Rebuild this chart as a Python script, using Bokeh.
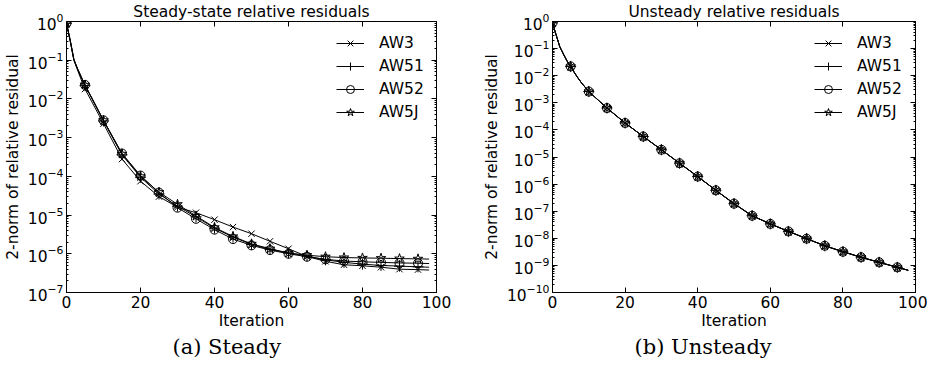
from bokeh.plotting import figure
from bokeh.models import (LinearAxis, LogAxis, FixedTicker, Legend, LegendItem,
                          Title, Range1d, ColumnDataSource, CustomJSTickFormatter)
from bokeh.layouts import row
from bokeh.embed import file_html
from bokeh.resources import INLINE

# ---------------- data ----------------
series_names = ["AW3", "AW51", "AW52", "AW5J"]
x_ticks = [0, 20, 40, 60, 80, 100]

steady_iters = [0, 1, 2, 3, 4, 5, 10, 15, 20, 25, 30, 35, 40, 45, 50, 55, 60, 65, 70, 75, 80, 85, 90, 95, 98]
steady_aw3 = [0.9, 0.31, 0.1, 0.055, 0.031, 0.018, 2.3e-3, 2.8e-4, 7.5e-5, 3.0e-5, 1.6e-5, 1.15e-5, 7.6e-6,
              4.9e-6, 3.3e-6, 2.1e-6, 1.35e-6, 8.5e-7, 6.4e-7, 5.2e-7, 4.9e-7, 4.5e-7, 4.0e-7, 3.9e-7, 3.8e-7]
steady_aw51 = [0.9, 0.32, 0.1, 0.058, 0.035, 0.022, 2.7e-3, 3.6e-4, 9.5e-5, 3.5e-5, 1.7e-5, 9.0e-6, 4.6e-6,
               2.7e-6, 1.75e-6, 1.3e-6, 1.05e-6, 8.7e-7, 7.0e-7, 6.0e-7, 5.4e-7, 5.0e-7, 4.8e-7, 4.6e-7, 4.5e-7]
steady_aw52 = [0.9, 0.33, 0.105, 0.06, 0.037, 0.023, 2.8e-3, 3.9e-4, 1.05e-4, 3.8e-5, 1.55e-5, 8.0e-6, 4.2e-6,
               2.4e-6, 1.65e-6, 1.25e-6, 1.0e-6, 8.4e-7, 7.2e-7, 6.5e-7, 6.2e-7, 6.0e-7, 5.8e-7, 5.7e-7, 5.6e-7]
steady_aw5j = [0.9, 0.33, 0.105, 0.06, 0.037, 0.023, 2.8e-3, 3.8e-4, 1.0e-4, 3.9e-5, 1.9e-5, 9.5e-6, 4.8e-6,
               2.8e-6, 1.8e-6, 1.35e-6, 1.05e-6, 9.2e-7, 8.4e-7, 8.0e-7, 7.8e-7, 7.7e-7, 7.5e-7, 7.4e-7, 7.3e-7]

unsteady_iters = [0, 1, 2, 3, 4, 5, 6, 7, 8, 10, 15, 20, 25, 30, 35, 40, 45, 50, 55, 60, 65, 70, 75, 80, 85, 90, 95, 98]
unsteady_aw3 = [0.89, 0.32, 0.118, 0.063, 0.035, 0.022, 0.0132, 0.0083, 0.0054, 2.6e-3, 6.4e-4, 1.8e-4, 5.7e-5,
                1.85e-5, 5.9e-6, 1.9e-6, 5.9e-7, 1.9e-7, 6.8e-8, 3.4e-8, 1.8e-8, 9.7e-9, 5.3e-9, 3.2e-9, 2.0e-9,
                1.3e-9, 8.5e-10, 6.6e-10]
unsteady_aw51 = [0.89, 0.32, 0.118, 0.063, 0.035, 0.022, 0.0132, 0.0083, 0.0054, 2.6e-3, 6.4e-4, 1.8e-4, 5.7e-5,
                 1.85e-5, 5.9e-6, 1.9e-6, 5.9e-7, 1.9e-7, 6.8e-8, 3.4e-8, 1.8e-8, 9.7e-9, 5.3e-9, 3.2e-9, 2.0e-9,
                 1.3e-9, 8.5e-10, 6.6e-10]
unsteady_aw52 = [0.89, 0.32, 0.118, 0.063, 0.035, 0.022, 0.0132, 0.0083, 0.0054, 2.6e-3, 6.4e-4, 1.8e-4, 5.7e-5,
                 1.85e-5, 5.9e-6, 1.9e-6, 5.9e-7, 1.9e-7, 6.8e-8, 3.4e-8, 1.8e-8, 9.7e-9, 5.3e-9, 3.2e-9, 2.0e-9,
                 1.3e-9, 8.5e-10, 6.6e-10]
unsteady_aw5j = [0.89, 0.32, 0.118, 0.063, 0.035, 0.022, 0.0132, 0.0083, 0.0054, 2.6e-3, 6.4e-4, 1.8e-4, 5.7e-5,
                 1.85e-5, 5.9e-6, 1.9e-6, 5.9e-7, 1.9e-7, 6.8e-8, 3.4e-8, 1.8e-8, 9.7e-9, 5.3e-9, 3.2e-9, 2.0e-9,
                 1.3e-9, 8.5e-10, 6.6e-10]

marker_every = 5
marker_last = 95

# ---------------- styling ----------------
FONT = "DejaVu Sans"
FS = "15.5px"
marker_styles = {
    "AW3": dict(marker="x", size=9, fill_color=None),
    "AW51": dict(marker="cross", size=11, fill_color=None),
    "AW52": dict(marker="circle", size=9, fill_color=None),
    "AW5J": dict(marker="star", size=10, fill_color=None),
}


def blank_axis(cls, ticker, minor):
    return cls(ticker=ticker, formatter=CustomJSTickFormatter(code="return ''"),
               major_label_text_font_size="2px", major_tick_in=5, major_tick_out=0,
               minor_tick_in=minor, minor_tick_out=0, major_label_standoff=0,
               axis_line_color="black")


def make_panel(title, caption, iters, series, y_lo_exp, border_left, border_right,
               frame_w, caption_offset, legend_x):
    decades = [10.0 ** k for k in range(y_lo_exp, 1)]
    minors = [m * 10.0 ** k for k in range(y_lo_exp, 0) for m in range(2, 10)]
    yticker = FixedTicker(ticks=decades, minor_ticks=minors)
    xticker = FixedTicker(ticks=x_ticks)

    p = figure(x_range=Range1d(0, 100), y_range=Range1d(10.0 ** y_lo_exp, 1.0),
               y_axis_type="log", frame_width=frame_w, frame_height=271,
               output_backend="svg", toolbar_location=None,
               min_border_left=border_left, min_border_right=border_right,
               min_border_top=0, min_border_bottom=0,
               background_fill_color="white", border_fill_color="white")
    p.grid.visible = False
    p.outline_line_color = "black"
    p.outline_line_width = 1

    p.title.text = title
    p.title.align = "center"
    p.title.text_font = FONT
    p.title.text_font_size = FS
    p.title.text_font_style = "normal"
    p.title.text_color = "black"
    p.title.standoff = 1

    for ax in (p.xaxis[0], p.yaxis[0]):
        ax.major_label_text_font = FONT
        ax.major_label_text_font_size = FS
        ax.major_label_text_color = "black"
        ax.axis_label_text_font = FONT
        ax.axis_label_text_font_size = FS
        ax.axis_label_text_font_style = "normal"
        ax.axis_label_text_color = "black"
        ax.major_tick_in = 5
        ax.major_tick_out = 0
        ax.minor_tick_in = 2
        ax.minor_tick_out = 0
        ax.axis_line_color = "black"
        ax.major_tick_line_color = "black"
        ax.minor_tick_line_color = "black"
        ax.major_label_standoff = 3
        ax.axis_label_standoff = 3
    p.xaxis[0].ticker = xticker
    p.xaxis[0].minor_tick_in = 0
    p.xaxis[0].axis_label = "Iteration"
    p.xaxis[0].axis_label_standoff = 1
    p.yaxis[0].ticker = yticker
    p.yaxis[0].axis_label = "2-norm of relative residual"

    p.add_layout(blank_axis(LinearAxis, xticker, 0), "above")
    p.add_layout(blank_axis(LogAxis, yticker, 2), "right")

    items = []
    for name in series_names:
        vals = series[name]
        src = ColumnDataSource(dict(x=iters, y=vals))
        mi = [i for i, it in enumerate(iters) if it % marker_every == 0 and it <= marker_last]
        msrc = ColumnDataSource(dict(x=[iters[i] for i in mi], y=[vals[i] for i in mi]))
        lr = p.line("x", "y", source=src, line_color="black", line_width=1)
        st = marker_styles[name]
        sr = p.scatter("x", "y", source=msrc, marker=st["marker"], size=st["size"],
                       line_color="black", line_width=1, fill_color=st["fill_color"])
        items.append(LegendItem(label=name, renderers=[lr, sr]))

    legend = Legend(items=items, location=(legend_x, 170), border_line_color=None,
                    background_fill_alpha=0, label_text_font=FONT, label_text_font_size=FS,
                    label_text_color="black", glyph_width=28, glyph_height=20,
                    label_height=20, spacing=3, padding=10, margin=0, label_standoff=15)
    p.add_layout(legend)

    cap = Title(text=caption, align="left", offset=caption_offset,
                text_font="DejaVu Serif", text_font_size="21px",
                text_font_style="normal", text_color="black", standoff=0)
    p.add_layout(cap, "below")
    return p


p1 = make_panel("Steady-state relative residuals", "(a) Steady", steady_iters,
                {"AW3": steady_aw3, "AW51": steady_aw51, "AW52": steady_aw52, "AW5J": steady_aw5j},
                -7, 60, 32, 370, 106, 270)
p2 = make_panel("Unsteady relative residuals", "(b) Unsteady", unsteady_iters,
                {"AW3": unsteady_aw3, "AW51": unsteady_aw51, "AW52": unsteady_aw52, "AW5J": unsteady_aw5j},
                -10, 84, 12, 363, 82, 262)

layout = row(p1, p2)
open("out.html", "w").write(file_html(layout, INLINE))
